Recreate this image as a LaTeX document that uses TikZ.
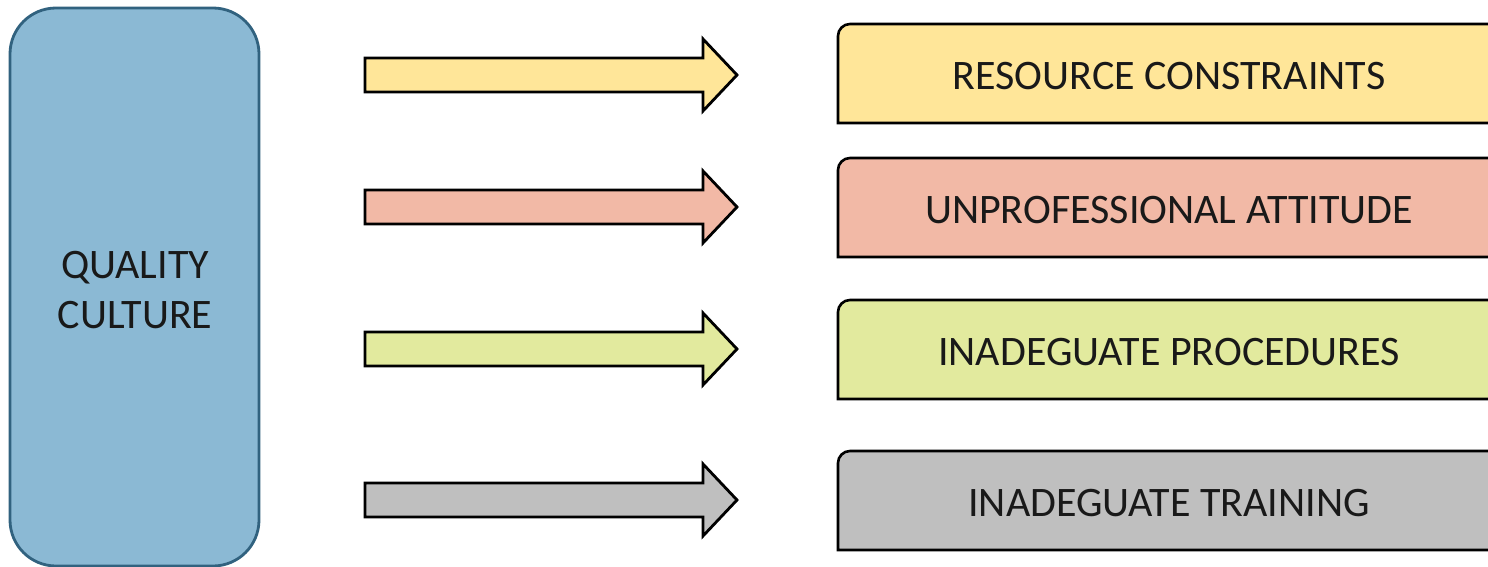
\documentclass[tikz,border=0pt]{standalone}
\usepackage{fontspec}
\setmainfont{Carlito}
\definecolor{cyel}{HTML}{FFE699}
\definecolor{cred}{HTML}{F2B9A6}
\definecolor{cgrn}{HTML}{E2EA9E}
\definecolor{cgry}{HTML}{BFBFBF}
\definecolor{cblu}{HTML}{8BB9D4}
\definecolor{cbdr}{HTML}{31627F}
\tikzset{
  fatarrow/.style={draw=black, line width=2.8pt, line join=miter},
  catbox/.style={draw=black, line width=2.6pt},
  lbl/.style={font=\fontsize{42}{50}\selectfont, text=black!90, inner sep=0pt},
}
\newcommand{\fatarr}[2]{% y center, colour
  \path[fatarrow, fill=#2] (365,#1-17) -- (703,#1-17) -- (703,#1-36) -- (737,#1) -- (703,#1+36) -- (703,#1+17) -- (365,#1+17) -- cycle;}
\begin{document}
\begin{tikzpicture}[x=1pt,y=-1pt]
\useasboundingbox (0,0) rectangle (1488,567);
\clip (0,0) rectangle (1488,567);
\fill[white] (0,0) rectangle (1488,567);
\draw[draw=cbdr, fill=cblu, line width=2.8pt, rounded corners=46pt] (10,8) rectangle (259,566);
\node[lbl, align=center] (qc) at (135,290) {QUALITY\\CULTURE};
\fatarr{75}{cyel}
\fatarr{207}{cred}
\fatarr{349}{cgrn}
\fatarr{500}{cgry}
\path[catbox, fill=cyel] (838,123) -- (838,36) arc[start angle=180, end angle=270, radius=12] -- (1490,24) -- (1490,123) -- cycle;
\node[lbl] (rc) at (1169,76) {RESOURCE CONSTRAINTS};
\path[catbox, fill=cred] (838,257) -- (838,170) arc[start angle=180, end angle=270, radius=12] -- (1490,158) -- (1490,257) -- cycle;
\node[lbl] (ua) at (1169,210) {UNPROFESSIONAL ATTITUDE};
\path[catbox, fill=cgrn] (838,399) -- (838,312) arc[start angle=180, end angle=270, radius=12] -- (1490,300) -- (1490,399) -- cycle;
\node[lbl] (ip) at (1169,352) {INADEGUATE PROCEDURES};
\path[catbox, fill=cgry] (838,550) -- (838,463) arc[start angle=180, end angle=270, radius=12] -- (1490,451) -- (1490,550) -- cycle;
\node[lbl] (it) at (1169,503) {INADEGUATE TRAINING};
\end{tikzpicture}
\end{document}
